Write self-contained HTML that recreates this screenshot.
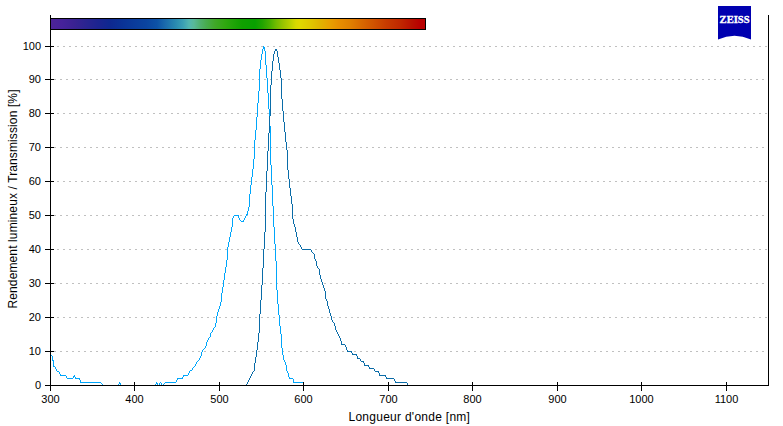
<!DOCTYPE html>
<html><head><meta charset="utf-8"><style>
html,body{margin:0;padding:0;background:#fff;}
body{width:783px;height:426px;overflow:hidden;}
svg{display:block;}
text{font-family:"Liberation Sans",sans-serif;fill:#000;}
</style></head><body>
<svg width="783" height="426" viewBox="0 0 783 426">
<defs><linearGradient id="sp" x1="51" x2="425" y1="0" y2="0" gradientUnits="userSpaceOnUse">
<stop offset="0.0000" stop-color="#4c2498"/>
<stop offset="0.0294" stop-color="#46229a"/>
<stop offset="0.0615" stop-color="#3a2292"/>
<stop offset="0.0936" stop-color="#2a2490"/>
<stop offset="0.1257" stop-color="#1c2490"/>
<stop offset="0.1578" stop-color="#0e2890"/>
<stop offset="0.1898" stop-color="#0a3296"/>
<stop offset="0.2246" stop-color="#0a3c9c"/>
<stop offset="0.2540" stop-color="#0a44a0"/>
<stop offset="0.2834" stop-color="#0c52a6"/>
<stop offset="0.3048" stop-color="#1a6aac"/>
<stop offset="0.3316" stop-color="#2888b0"/>
<stop offset="0.3529" stop-color="#3aa0b4"/>
<stop offset="0.3690" stop-color="#52b6b0"/>
<stop offset="0.3824" stop-color="#58b898"/>
<stop offset="0.3984" stop-color="#50b070"/>
<stop offset="0.4144" stop-color="#48ac50"/>
<stop offset="0.4385" stop-color="#40a828"/>
<stop offset="0.4652" stop-color="#30a810"/>
<stop offset="0.4920" stop-color="#1ca406"/>
<stop offset="0.5107" stop-color="#10a000"/>
<stop offset="0.5455" stop-color="#08a000"/>
<stop offset="0.5642" stop-color="#20a400"/>
<stop offset="0.5856" stop-color="#48b000"/>
<stop offset="0.6016" stop-color="#70bc00"/>
<stop offset="0.6203" stop-color="#98c400"/>
<stop offset="0.6390" stop-color="#b8d000"/>
<stop offset="0.6551" stop-color="#d8d800"/>
<stop offset="0.6658" stop-color="#e0d800"/>
<stop offset="0.6925" stop-color="#e0c800"/>
<stop offset="0.7193" stop-color="#e0b400"/>
<stop offset="0.7460" stop-color="#e8a000"/>
<stop offset="0.7674" stop-color="#e89000"/>
<stop offset="0.7995" stop-color="#e08000"/>
<stop offset="0.8316" stop-color="#d86800"/>
<stop offset="0.8663" stop-color="#d05000"/>
<stop offset="0.8957" stop-color="#c83c00"/>
<stop offset="0.9332" stop-color="#c02800"/>
<stop offset="0.9652" stop-color="#b81000"/>
<stop offset="0.9866" stop-color="#b80000"/>
<stop offset="1.0000" stop-color="#b80000"/>
</linearGradient></defs>
<rect width="783" height="426" fill="#fff"/>
<g stroke="#c0c0c0" stroke-width="1" stroke-dasharray="2 4" shape-rendering="crispEdges">
<line x1="57" y1="46.5" x2="768" y2="46.5"/>
<line x1="54" y1="79.5" x2="768" y2="79.5"/>
<line x1="57" y1="113.5" x2="768" y2="113.5"/>
<line x1="54" y1="147.5" x2="768" y2="147.5"/>
<line x1="57" y1="181.5" x2="768" y2="181.5"/>
<line x1="54" y1="215.5" x2="768" y2="215.5"/>
<line x1="57" y1="249.5" x2="768" y2="249.5"/>
<line x1="54" y1="283.5" x2="768" y2="283.5"/>
<line x1="57" y1="317.5" x2="768" y2="317.5"/>
<line x1="54" y1="351.5" x2="768" y2="351.5"/>
</g>
<path d="M51 355h1v1h-1zM52 356h1v5h-1zM53 360h1v7h-1zM54 366h1v1h-1zM55 367h1v2h-1zM56 369h1v2h-1zM57 371h1v1h-1zM58 371h1v1h-1zM59 372h1v2h-1zM60 374h1v2h-1zM61 375h1v1h-1zM62 375h1v1h-1zM63 375h1v1h-1zM64 375h1v1h-1zM65 375h1v1h-1zM66 376h1v2h-1zM67 378h1v1h-1zM68 378h1v1h-1zM69 378h1v1h-1zM70 378h1v1h-1zM71 378h1v1h-1zM72 378h1v1h-1zM73 376h1v2h-1zM74 375h1v2h-1zM75 377h1v2h-1zM76 378h1v1h-1zM77 378h1v1h-1zM78 378h1v1h-1zM79 378h1v2h-1zM80 380h1v3h-1zM81 382h1v1h-1zM82 382h1v1h-1zM83 382h1v1h-1zM84 382h1v1h-1zM85 382h1v1h-1zM86 382h1v1h-1zM87 382h1v1h-1zM88 382h1v1h-1zM89 382h1v1h-1zM90 382h1v1h-1zM91 382h1v1h-1zM92 382h1v1h-1zM93 382h1v1h-1zM94 382h1v1h-1zM95 382h1v1h-1zM96 382h1v1h-1zM97 382h1v1h-1zM98 382h1v1h-1zM99 382h1v1h-1zM100 382h1v1h-1zM101 383h1v1h-1zM102 384h1v2h-1zM103 385h1v1h-1zM104 385h1v1h-1zM105 385h1v1h-1zM106 385h1v1h-1zM107 385h1v1h-1zM108 385h1v1h-1zM109 385h1v1h-1zM110 385h1v1h-1zM111 385h1v1h-1zM112 385h1v1h-1zM113 385h1v1h-1zM114 385h1v1h-1zM115 385h1v1h-1zM116 385h1v1h-1zM117 385h1v1h-1zM118 384h1v2h-1zM119 382h1v2h-1zM120 383h1v2h-1zM121 385h1v1h-1zM122 385h1v1h-1zM123 385h1v1h-1zM124 385h1v1h-1zM125 385h1v1h-1zM126 385h1v1h-1zM127 385h1v1h-1zM128 385h1v1h-1zM129 385h1v1h-1zM130 385h1v1h-1zM131 385h1v1h-1zM132 385h1v1h-1zM133 385h1v1h-1zM134 385h1v1h-1zM135 385h1v1h-1zM136 385h1v1h-1zM137 385h1v1h-1zM138 385h1v1h-1zM139 385h1v1h-1zM140 385h1v1h-1zM141 385h1v1h-1zM142 385h1v1h-1zM143 385h1v1h-1zM144 385h1v1h-1zM145 385h1v1h-1zM146 385h1v1h-1zM147 385h1v1h-1zM148 385h1v1h-1zM149 385h1v1h-1zM150 385h1v1h-1zM151 385h1v1h-1zM152 385h1v1h-1zM153 385h1v1h-1zM154 385h1v1h-1zM155 384h1v2h-1zM156 382h1v2h-1zM157 383h1v2h-1zM158 385h1v1h-1zM159 383h1v2h-1zM160 382h1v1h-1zM161 383h1v2h-1zM162 385h1v1h-1zM163 384h1v1h-1zM164 383h1v1h-1zM165 382h1v1h-1zM166 382h1v1h-1zM167 382h1v1h-1zM168 382h1v1h-1zM169 382h1v1h-1zM170 382h1v1h-1zM171 382h1v1h-1zM172 382h1v1h-1zM173 382h1v1h-1zM174 382h1v1h-1zM175 382h1v1h-1zM176 380h1v2h-1zM177 378h1v2h-1zM178 378h1v1h-1zM179 378h1v1h-1zM180 378h1v1h-1zM181 378h1v1h-1zM182 377h1v2h-1zM183 375h1v2h-1zM184 375h1v1h-1zM185 375h1v1h-1zM186 375h1v1h-1zM187 375h1v1h-1zM188 373h1v2h-1zM189 371h1v2h-1zM190 370h1v1h-1zM191 370h1v1h-1zM192 368h1v2h-1zM193 367h1v1h-1zM194 366h1v1h-1zM195 364h1v2h-1zM196 362h1v2h-1zM197 361h1v1h-1zM198 360h1v1h-1zM199 358h1v2h-1zM200 356h1v2h-1zM201 352h1v4h-1zM202 350h1v2h-1zM203 349h1v1h-1zM204 348h1v1h-1zM205 346h1v2h-1zM206 342h1v4h-1zM207 340h1v2h-1zM208 338h1v2h-1zM209 337h1v1h-1zM210 333h1v4h-1zM211 332h1v1h-1zM212 330h1v2h-1zM213 328h1v2h-1zM214 327h1v1h-1zM215 323h1v4h-1zM216 316h1v7h-1zM217 312h1v4h-1zM218 309h1v3h-1zM219 306h1v3h-1zM220 302h1v4h-1zM221 293h1v9h-1zM222 287h1v6h-1zM223 280h1v7h-1zM224 273h1v7h-1zM225 267h1v6h-1zM226 260h1v7h-1zM227 247h1v13h-1zM228 242h1v5h-1zM229 237h1v5h-1zM230 232h1v5h-1zM231 227h1v5h-1zM232 218h1v9h-1zM233 216h1v2h-1zM234 215h1v1h-1zM235 215h1v1h-1zM236 215h1v1h-1zM237 215h1v1h-1zM238 215h1v3h-1zM239 218h1v2h-1zM240 220h1v1h-1zM241 221h1v1h-1zM242 221h1v1h-1zM243 220h1v2h-1zM244 218h1v2h-1zM245 216h1v2h-1zM246 214h1v2h-1zM247 211h1v4h-1zM248 207h1v4h-1zM249 194h1v13h-1zM250 185h1v9h-1zM251 177h1v8h-1zM252 169h1v8h-1zM253 159h1v10h-1zM254 140h1v19h-1zM255 130h1v10h-1zM256 117h1v13h-1zM257 103h1v14h-1zM258 91h1v12h-1zM259 69h1v22h-1zM260 60h1v9h-1zM261 54h1v6h-1zM262 49h1v5h-1zM263 46h1v3h-1zM264 47h1v4h-1zM265 51h1v14h-1zM266 65h1v13h-1zM267 78h1v15h-1zM268 93h1v16h-1zM269 109h1v17h-1zM270 126h1v39h-1zM271 165h1v20h-1zM272 185h1v21h-1zM273 206h1v21h-1zM274 227h1v17h-1zM275 244h1v17h-1zM276 261h1v29h-1zM277 290h1v14h-1zM278 304h1v11h-1zM279 315h1v11h-1zM280 326h1v8h-1zM281 334h1v14h-1zM282 348h1v7h-1zM283 355h1v5h-1zM284 360h1v2h-1zM285 362h1v3h-1zM286 365h1v6h-1zM287 371h1v2h-1zM288 373h1v4h-1zM289 377h1v2h-1zM290 378h1v1h-1zM291 378h1v1h-1zM292 378h1v1h-1zM293 379h1v4h-1zM294 382h1v1h-1zM295 382h1v1h-1zM296 382h1v1h-1zM297 382h1v1h-1zM298 382h1v1h-1zM299 382h1v1h-1zM300 382h1v1h-1zM301 382h1v1h-1zM302 382h1v1h-1zM303 382h1v3h-1z" fill="#00a6fb" shape-rendering="crispEdges"/>
<path d="M246 384h1v2h-1zM247 382h1v2h-1zM248 380h1v2h-1zM249 378h1v2h-1zM250 376h1v2h-1zM251 374h1v2h-1zM252 372h1v2h-1zM253 371h1v1h-1zM254 363h1v8h-1zM255 357h1v6h-1zM256 350h1v7h-1zM257 342h1v8h-1zM258 333h1v9h-1zM259 314h1v19h-1zM260 300h1v14h-1zM261 285h1v15h-1zM262 268h1v17h-1zM263 249h1v19h-1zM264 232h1v17h-1zM265 192h1v40h-1zM266 171h1v21h-1zM267 151h1v20h-1zM268 133h1v18h-1zM269 116h1v17h-1zM270 85h1v31h-1zM271 71h1v14h-1zM272 61h1v10h-1zM273 54h1v7h-1zM274 51h1v3h-1zM275 49h1v2h-1zM276 49h1v2h-1zM277 51h1v6h-1zM278 57h1v6h-1zM279 63h1v7h-1zM280 70h1v8h-1zM281 78h1v21h-1zM282 99h1v12h-1zM283 111h1v11h-1zM284 122h1v10h-1zM285 132h1v10h-1zM286 142h1v8h-1zM287 150h1v20h-1zM288 170h1v9h-1zM289 179h1v9h-1zM290 188h1v8h-1zM291 196h1v8h-1zM292 204h1v15h-1zM293 219h1v5h-1zM294 224h1v3h-1zM295 227h1v5h-1zM296 232h1v5h-1zM297 237h1v5h-1zM298 242h1v2h-1zM299 244h1v1h-1zM300 245h1v2h-1zM301 247h1v2h-1zM302 249h1v1h-1zM303 249h1v1h-1zM304 249h1v1h-1zM305 249h1v1h-1zM306 249h1v1h-1zM307 249h1v1h-1zM308 249h1v1h-1zM309 249h1v1h-1zM310 249h1v1h-1zM311 250h1v2h-1zM312 252h1v1h-1zM313 253h1v1h-1zM314 254h1v5h-1zM315 259h1v2h-1zM316 261h1v5h-1zM317 266h1v2h-1zM318 268h1v1h-1zM319 269h1v6h-1zM320 275h1v4h-1zM321 279h1v3h-1zM322 282h1v3h-1zM323 285h1v3h-1zM324 288h1v3h-1zM325 291h1v8h-1zM326 299h1v2h-1zM327 301h1v5h-1zM328 306h1v3h-1zM329 309h1v4h-1zM330 313h1v3h-1zM331 316h1v4h-1zM332 320h1v2h-1zM333 322h1v1h-1zM334 323h1v3h-1zM335 326h1v4h-1zM336 330h1v2h-1zM337 332h1v2h-1zM338 334h1v2h-1zM339 336h1v2h-1zM340 338h1v3h-1zM341 341h1v4h-1zM342 344h1v1h-1zM343 344h1v1h-1zM344 344h1v1h-1zM345 345h1v2h-1zM346 347h1v3h-1zM347 350h1v2h-1zM348 351h1v1h-1zM349 351h1v1h-1zM350 351h1v1h-1zM351 351h1v2h-1zM352 353h1v2h-1zM353 354h1v1h-1zM354 354h1v1h-1zM355 354h1v1h-1zM356 354h1v2h-1zM357 356h1v3h-1zM358 358h1v1h-1zM359 358h1v1h-1zM360 359h1v2h-1zM361 361h1v1h-1zM362 361h1v1h-1zM363 361h1v2h-1zM364 363h1v3h-1zM365 365h1v1h-1zM366 365h1v1h-1zM367 365h1v1h-1zM368 365h1v2h-1zM369 367h1v2h-1zM370 368h1v1h-1zM371 368h1v1h-1zM372 368h1v1h-1zM373 368h1v1h-1zM374 369h1v2h-1zM375 371h1v1h-1zM376 371h1v1h-1zM377 371h1v1h-1zM378 371h1v2h-1zM379 373h1v3h-1zM380 375h1v1h-1zM381 375h1v1h-1zM382 375h1v1h-1zM383 375h1v1h-1zM384 375h1v1h-1zM385 375h1v2h-1zM386 377h1v2h-1zM387 378h1v1h-1zM388 378h1v1h-1zM389 378h1v1h-1zM390 378h1v1h-1zM391 378h1v1h-1zM392 378h1v1h-1zM393 378h1v1h-1zM394 379h1v2h-1zM395 381h1v2h-1zM396 382h1v1h-1zM397 382h1v1h-1zM398 382h1v1h-1zM399 382h1v1h-1zM400 382h1v1h-1zM401 382h1v1h-1zM402 382h1v1h-1zM403 382h1v1h-1zM404 382h1v1h-1zM405 382h1v1h-1zM406 382h1v1h-1zM407 383h1v2h-1zM408 385h1v1h-1z" fill="#0a6ca8" shape-rendering="crispEdges"/>
<rect x="50.5" y="18.5" width="375" height="11" fill="url(#sp)" stroke="#000" stroke-width="1" shape-rendering="crispEdges"/>
<g stroke="#000" stroke-width="1" shape-rendering="crispEdges">
<line x1="50.5" y1="15" x2="50.5" y2="386"/>
<line x1="50" y1="385.5" x2="769" y2="385.5"/>
<line x1="768.5" y1="15" x2="768.5" y2="386"/>
<line x1="45" y1="46.5" x2="54" y2="46.5"/>
<line x1="45" y1="79.5" x2="54" y2="79.5"/>
<line x1="45" y1="113.5" x2="54" y2="113.5"/>
<line x1="45" y1="147.5" x2="54" y2="147.5"/>
<line x1="45" y1="181.5" x2="54" y2="181.5"/>
<line x1="45" y1="215.5" x2="54" y2="215.5"/>
<line x1="45" y1="249.5" x2="54" y2="249.5"/>
<line x1="45" y1="283.5" x2="54" y2="283.5"/>
<line x1="45" y1="317.5" x2="54" y2="317.5"/>
<line x1="45" y1="351.5" x2="54" y2="351.5"/>
<line x1="45" y1="385.5" x2="54" y2="385.5"/>
<line x1="50.5" y1="382" x2="50.5" y2="391"/>
<line x1="134.5" y1="382" x2="134.5" y2="391"/>
<line x1="219.5" y1="382" x2="219.5" y2="391"/>
<line x1="303.5" y1="382" x2="303.5" y2="391"/>
<line x1="388.5" y1="382" x2="388.5" y2="391"/>
<line x1="472.5" y1="382" x2="472.5" y2="391"/>
<line x1="557.5" y1="382" x2="557.5" y2="391"/>
<line x1="641.5" y1="382" x2="641.5" y2="391"/>
<line x1="726.5" y1="382" x2="726.5" y2="391"/>
</g>
<g font-size="11">
<text x="41" y="50" text-anchor="end">100</text>
<text x="41" y="83" text-anchor="end">90</text>
<text x="41" y="117" text-anchor="end">80</text>
<text x="41" y="151" text-anchor="end">70</text>
<text x="41" y="185" text-anchor="end">60</text>
<text x="41" y="219" text-anchor="end">50</text>
<text x="41" y="253" text-anchor="end">40</text>
<text x="41" y="287" text-anchor="end">30</text>
<text x="41" y="321" text-anchor="end">20</text>
<text x="41" y="355" text-anchor="end">10</text>
<text x="41" y="389" text-anchor="end">0</text>
<text x="50.5" y="403" text-anchor="middle">300</text>
<text x="134.5" y="403" text-anchor="middle">400</text>
<text x="219.5" y="403" text-anchor="middle">500</text>
<text x="303.5" y="403" text-anchor="middle">600</text>
<text x="388.5" y="403" text-anchor="middle">700</text>
<text x="472.5" y="403" text-anchor="middle">800</text>
<text x="557.5" y="403" text-anchor="middle">900</text>
<text x="641.5" y="403" text-anchor="middle">1000</text>
<text x="726.5" y="403" text-anchor="middle">1100</text>
</g>
<text x="409.2" y="421" font-size="12" text-anchor="middle" textLength="121.5" lengthAdjust="spacing">Longueur d'onde [nm]</text>
<text transform="translate(17,199) rotate(-90)" font-size="12" text-anchor="middle" textLength="219" lengthAdjust="spacing">Rendement lumineux / Transmission [%]</text>
<path d="M718,6 H751 V39.6 A40,40 0 0 0 718,39.6 Z" fill="#0000b0"/>
<text x="734.6" y="23" style="font-family:'Liberation Serif',serif;font-weight:bold;font-size:11px;fill:#fff;stroke:#fff;stroke-width:0.35px" text-anchor="middle" textLength="30" lengthAdjust="spacingAndGlyphs">ZEISS</text>
</svg>
</body></html>
